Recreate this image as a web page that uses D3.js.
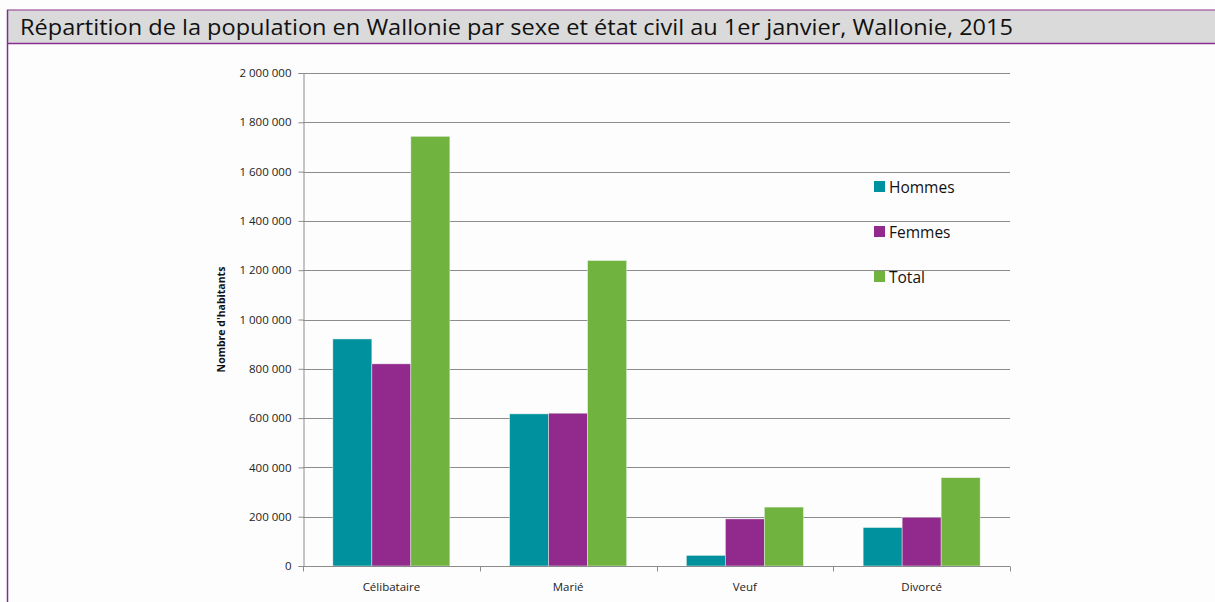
<!DOCTYPE html>
<html><head><meta charset="utf-8">
<script src="https://cdn.jsdelivr.net/npm/d3@7"></script>
<style>
html,body{margin:0;padding:0;background:#fdfdfd;}
svg{display:block;}
</style></head>
<body>
<script>
const categories = ["Célibataire", "Marié", "Veuf", "Divorcé"];
const seriesNames = ["Hommes", "Femmes", "Total"];
const hommes = [921000, 617000, 43000, 156000];
const femmes = [820000, 620000, 191000, 198000];
const total  = [1743000, 1239000, 239000, 358000];
const yTicks = [0, 200000, 400000, 600000, 800000, 1000000, 1200000, 1400000, 1600000, 1800000, 2000000];
const colors = ["#00919f", "#922a8e", "#70b33f"];
const title = "Répartition de la population en Wallonie par sexe et état civil au 1er janvier, Wallonie, 2015";
const yTitle = "Nombre d'habitants";

(function () {
const seriesValues = [hommes, femmes, total];
const W = 1215, H = 602;
const svg = d3.select("body").append("svg").attr("width", W).attr("height", H);

// frame
svg.append("rect").attr("x", 7).attr("y", 10).attr("width", W - 7).attr("height", 33).attr("fill", "#dadada");
svg.append("line").attr("x1", 7).attr("x2", W).attr("y1", 10).attr("y2", 10).attr("stroke", "#8b2f8e").attr("stroke-width", 1);
svg.append("line").attr("x1", 7).attr("x2", W).attr("y1", 43.5).attr("y2", 43.5).attr("stroke", "#8b2f8e").attr("stroke-width", 1.5);
svg.append("line").attr("x1", 7.5).attr("x2", 7.5).attr("y1", 10).attr("y2", H).attr("stroke", "#7b3390").attr("stroke-width", 1.5);
svg.append("text").attr("x", 20).attr("y", 35).text(title)
  .attr("font-family", "'Open Sans', sans-serif").attr("font-size", 21).attr("fill", "#111")
  .attr("textLength", 993).attr("lengthAdjust", "spacingAndGlyphs");

const pl = 303, pr = 1010, pt = 73, pb = 566;
const x = d3.scaleBand().domain(categories).range([pl, pr]).padding(0);
const xs = d3.scaleBand().domain(seriesNames).range([0, x.bandwidth()]).paddingInner(0).paddingOuter(0.766);
const y = d3.scaleLinear().domain([0, 2000000]).range([pb, pt]);

const fmt = v => d3.format(",")(v).replace(/,/g, " ");

// gridlines
svg.append("g").selectAll("line").data(yTicks.filter(d => d > 0)).join("line")
  .attr("x1", pl).attr("x2", pr).attr("y1", d => Math.round(y(d)) + 0.5).attr("y2", d => Math.round(y(d)) + 0.5)
  .attr("stroke", "#8c8c8c").attr("stroke-width", 1);

// y axis
const yAxis = svg.append("g").attr("transform", `translate(${pl + 0.5},0)`)
  .call(d3.axisLeft(y).tickValues(yTicks).tickFormat(fmt).tickSize(5).tickPadding(7));
yAxis.select(".domain").attr("stroke", "#8c8c8c");
yAxis.selectAll(".tick line").attr("stroke", "#8c8c8c");
yAxis.selectAll(".tick text").attr("font-family", "'Open Sans', sans-serif").attr("font-size", 11.5).attr("fill", "#222");

// bars
const groups = svg.append("g").selectAll("g").data(categories).join("g")
  .attr("transform", d => `translate(${x(d)},0)`);
groups.selectAll("rect").data((c, i) => seriesNames.map((s, j) => ({ s, v: seriesValues[j][i], j }))).join("rect")
  .attr("x", d => xs(d.s)).attr("width", xs.bandwidth())
  .attr("y", d => y(d.v)).attr("height", d => y(0) - y(d.v))
  .attr("fill", d => colors[d.j]).attr("stroke", "#e8f0e8").attr("stroke-width", 0.5);

// x axis
const xAxisG = svg.append("g").attr("transform", `translate(0,${pb + 0.5})`);
xAxisG.append("line").attr("x1", pl).attr("x2", pr).attr("stroke", "#8c8c8c");
xAxisG.selectAll(".tk").data(d3.range(categories.length + 1)).join("line")
  .attr("x1", i => Math.round(pl + i * x.step()) + 0.5).attr("x2", i => Math.round(pl + i * x.step()) + 0.5)
  .attr("y1", 0).attr("y2", 5).attr("stroke", "#8c8c8c");
xAxisG.selectAll("text").data(categories).join("text")
  .attr("x", d => x(d) + x.bandwidth() / 2).attr("y", 24).attr("text-anchor", "middle")
  .attr("font-family", "'Open Sans', sans-serif").attr("font-size", 11.5).attr("fill", "#222").text(d => d);

// y title
svg.append("text").attr("transform", `translate(225,${(pt + pb) / 2}) rotate(-90)`)
  .attr("text-anchor", "middle").attr("font-family", "'Open Sans', sans-serif").attr("font-weight", "bold")
  .attr("font-size", 10.5).attr("fill", "#111").text(yTitle);

// legend
const lg = svg.append("g").selectAll("g").data(seriesNames).join("g")
  .attr("transform", (d, i) => `translate(874,${181 + i * 45})`);
lg.append("rect").attr("width", 11).attr("height", 11).attr("fill", (d, i) => colors[i]);
lg.append("text").attr("x", 15).attr("y", 11.5).text(d => d)
  .attr("font-family", "'Open Sans', sans-serif").attr("font-size", 15.5).attr("fill", "#111");
})();
</script>
</body></html>
